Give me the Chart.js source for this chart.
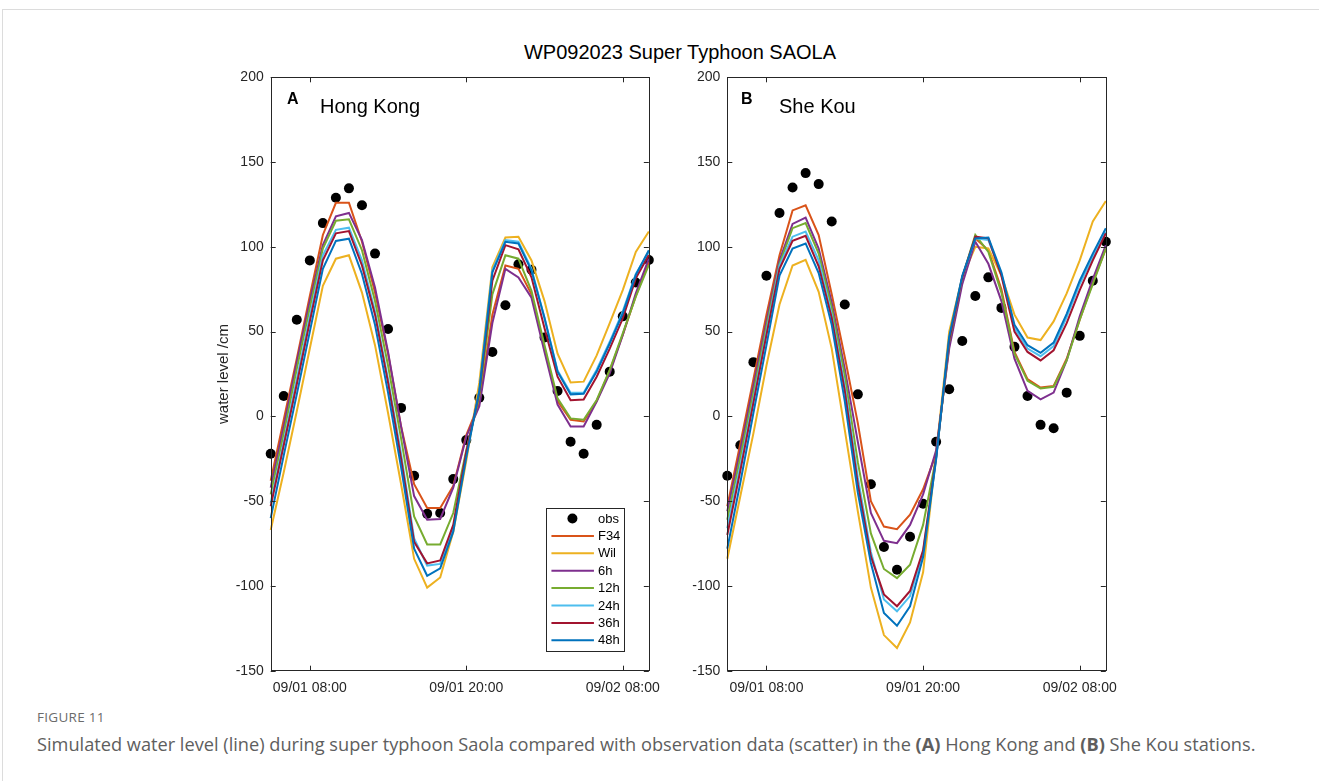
<!DOCTYPE html>
<html>
<head>
<meta charset="utf-8">
<script src="https://cdn.jsdelivr.net/npm/chart.js@4.4.1/dist/chart.umd.min.js"></script>
<style>
  html, body { margin: 0; padding: 0; background: #fff; }
  body { width: 1319px; height: 781px; position: relative; overflow: hidden; font-family: "Liberation Sans", Arial, sans-serif; }
  .frame { position: absolute; left: 2px; top: 9px; right: 0; bottom: 0; border-top: 1px solid #dcdcdc; border-left: 1px solid #dcdcdc; }
  .panel { position: absolute; top: 60px; width: 470px; height: 650px; }
  #hk { left: 200px; }
  #sk { left: 657px; }
  .title { position: absolute; left: 0; width: 1360px; top: 42px; text-align: center; font-size: 20px; line-height: 20px; color: #000; }
  .tag { position: absolute; font-size: 16px; line-height: 16px; font-weight: bold; color: #000; }
  .station { position: absolute; font-size: 20px; line-height: 20px; color: #000; }
  .fig { position: absolute; left: 37px; top: 710px; font-family: "Open Sans", sans-serif; font-size: 13.5px; line-height: 14px; color: #6b6b6b; letter-spacing: 0.3px; }
  .caption { position: absolute; left: 37px; top: 734px; font-family: "Open Sans", sans-serif; font-size: 18.2px; line-height: 20px; color: #5e5e5e; white-space: nowrap; }
</style>
</head>
<body>
<div class="frame"></div>
<div class="title">WP092023 Super Typhoon SAOLA</div>
<canvas id="hk" class="panel" width="470" height="650"></canvas>
<canvas id="sk" class="panel" width="470" height="650"></canvas>
<div class="tag" style="left:287px; top:91px;">A</div>
<div class="station" style="left:320px; top:96px;">Hong Kong</div>
<div class="tag" style="left:741px; top:91px;">B</div>
<div class="station" style="left:779px; top:96px;">She Kou</div>
<div class="fig">FIGURE 11</div>
<div class="caption">Simulated water level (line) during super typhoon Saola compared with observation data (scatter) in the <b>(A)</b> Hong Kong and <b>(B)</b> She Kou stations.</div>

<script>
// hourly output, 09/01 05:00 to 09/02 10:00
const times = [
  '09/01 05:00', '09/01 06:00', '09/01 07:00', '09/01 08:00', '09/01 09:00', '09/01 10:00',
  '09/01 11:00', '09/01 12:00', '09/01 13:00', '09/01 14:00', '09/01 15:00', '09/01 16:00',
  '09/01 17:00', '09/01 18:00', '09/01 19:00', '09/01 20:00', '09/01 21:00', '09/01 22:00',
  '09/01 23:00', '09/02 00:00', '09/02 01:00', '09/02 02:00', '09/02 03:00', '09/02 04:00',
  '09/02 05:00', '09/02 06:00', '09/02 07:00', '09/02 08:00', '09/02 09:00', '09/02 10:00'
];
const xTickLabels = ['09/01 08:00', '09/01 20:00', '09/02 08:00'];
const yMin = -150, yMax = 200, yStep = 50;

const runNames = ['F34', 'Wil', '6h', '12h', '24h', '36h', '48h'];
const runColors = ['#D95319', '#EDB120', '#7E2F8E', '#77AC30', '#4DBEEE', '#A2142F', '#0072BD'];

// Hong Kong (cm)
const hkObs = [-22, 12, 57, 92, 114, 129, 134.5, 124.5, 96, 51.5, 5, -35, -57.5, -57, -37, -14, 11, 38, 65.5, 89.7, 86.5, 46.5, 15, -15, -22, -5, 26.4, 59, 79, 92.2];
const hkF34 = [-38, -2, 34, 71, 107, 126, 126, 103, 73, 37, -6, -40, -54, -54, -41, -11, 8, 60, 89, 87, 72, 40, 9, -2, -3, 9, 27, 48, 71, 91];
const hkWil = [-67, -33, 3, 40, 77, 93, 95, 73, 42, 2, -40, -84, -101, -95, -68, -26, 20, 88, 105.5, 106, 92, 68, 37, 20, 20.5, 36, 55, 74.5, 97, 109];
const hk6h  = [-42, -6, 32, 68, 101, 118, 120, 104, 76, 38, -6, -47, -61, -60.5, -42, -12, 6, 55, 87, 82, 70, 38, 7, -6, -6, 8.7, 25.4, 48, 72.6, 93];
const hk12h = [-46, -10, 28, 64, 99, 115.4, 116.2, 98, 68, 30, -13, -59, -75.5, -75.5, -57, -20, 12, 72, 95, 93, 74, 42, 10.6, -1.2, -2, 9.7, 27.4, 49, 70.6, 89.3];
const hk24h = [-51, -15, 22, 59, 95, 110, 111.3, 92, 62, 22, -22, -72, -88, -87, -66, -22, 15, 86, 104, 103, 87, 58, 27, 14, 14, 27.5, 44, 62, 84, 97];
const hk36h = [-53, -17, 19, 56, 92, 108, 109.3, 89, 60, 20, -25, -74, -86.7, -85, -64, -21, 14, 80, 101, 98.5, 82, 52, 23.4, 9.5, 10, 23.4, 40, 57.8, 81.4, 95.2];
const hk48h = [-60, -23, 13, 50, 87, 103.5, 104.8, 84, 54, 14, -30, -78, -94, -89.6, -68, -24, 15, 85, 103, 102, 86, 58, 26.4, 13, 13.4, 26.4, 43, 60.8, 83.4, 98];

// She Kou (cm)
const skObs = [-35, -17, 32, 83, 120, 135, 143.5, 137, 115, 66, 13, -40, -77, -90.5, -71, -51.5, -15, 16, 44.5, 71, 82, 64, 41, 12, -5, -7, 14, 47.5, 80, 103];
const skF34 = [-53, -16, 22, 60, 95, 121.5, 124.5, 107, 72, 35, -4, -50, -65, -66.5, -58, -43, -22, 42, 80, 105, 98, 75, 38, 22, 17, 18, 34, 57, 79, 99];
const skWil = [-84, -47, -10, 30, 66, 89, 92.3, 73.5, 40, -8, -56, -101, -129, -136.6, -121.5, -92, -22, 50, 82, 100, 99, 83, 60, 46.5, 45, 56, 72.5, 92, 115, 127];
const sk6h  = [-56, -20, 18, 56, 92, 113.5, 117.3, 99, 67, 28, -15, -57, -73.4, -74.8, -64, -46, -20, 40, 78, 103, 90, 68, 34, 15, 10, 14, 33, 59, 81, 101];
const sk12h = [-61, -24, 14, 53, 90, 111, 114, 96, 64, 24, -27, -69, -90, -95.4, -87.5, -64, -24, 44, 82, 107, 97, 73, 37, 21, 16.5, 17.5, 33, 57, 78, 99];
const sk24h = [-66, -29, 10, 50, 89, 106, 109, 92, 60, 18, -36, -80, -108, -115, -106, -80, -25, 46, 82, 105, 104, 84, 52, 40, 35.5, 41.5, 58.5, 78, 94, 109];
const sk36h = [-70, -32, 8, 48, 87, 103.5, 106.5, 88.5, 58, 15, -40, -82.6, -105, -112, -103, -79, -24, 45, 82, 106, 105, 83, 50, 38, 33, 39, 55, 74.5, 92, 108];
const sk48h = [-78, -39, 2, 42, 83, 99, 102, 84.5, 54, 9, -45, -86.5, -116, -123.5, -112, -83, -25, 47, 83, 105, 105.5, 85, 54, 42, 37.5, 43.5, 60.5, 80, 96, 111];

const axisColor = '#262626';
const tickFont = { family: '"Liberation Sans", Arial, sans-serif', size: 14 };

// box around the axes with inward tick marks on all four sides
const axesBox = {
  id: 'axesBox',
  afterDatasetsDraw(chart) {
    const { ctx, chartArea: a, scales: { x, y } } = chart;
    const len = 5;
    ctx.save();
    ctx.strokeStyle = axisColor;
    ctx.lineWidth = 1;
    ctx.strokeRect(Math.round(a.left) + 0.5, Math.round(a.top) + 0.5, Math.round(a.right - a.left), Math.round(a.bottom - a.top));
    ctx.beginPath();
    y.ticks.forEach(t => {
      const py = Math.round(y.getPixelForValue(t.value)) + 0.5;
      ctx.moveTo(a.left, py); ctx.lineTo(a.left + len, py);
      ctx.moveTo(a.right, py); ctx.lineTo(a.right - len, py);
    });
    xTickLabels.forEach(lbl => {
      const px = Math.round(x.getPixelForValue(times.indexOf(lbl))) + 0.5;
      ctx.moveTo(px, a.bottom); ctx.lineTo(px, a.bottom - len);
      ctx.moveTo(px, a.top); ctx.lineTo(px, a.top + len);
    });
    ctx.stroke();
    ctx.restore();
  }
};

// boxed legend in the lower right corner of the axes
const boxLegend = {
  id: 'boxLegend',
  afterDraw(chart, args, opts) {
    if (!opts.show) return;
    const { ctx, chartArea: a } = chart;
    const w = 78, h = 142.5;
    const left = a.right - 24.4 - w, top = a.bottom - 20.2 - h;
    ctx.save();
    ctx.fillStyle = '#fff';
    ctx.fillRect(left, top, w, h);
    ctx.strokeStyle = axisColor;
    ctx.lineWidth = 1;
    ctx.strokeRect(Math.round(left) + 0.5, Math.round(top) + 0.5, Math.round(w), Math.round(h));
    ctx.font = '13px "Liberation Sans", Arial, sans-serif';
    ctx.textBaseline = 'middle';
    chart.data.datasets.forEach((ds, i) => {
      const cy = top + 10.5 + i * 17.4;
      if (ds.showLine === false) {
        ctx.fillStyle = ds.pointBackgroundColor;
        ctx.beginPath();
        ctx.arc(left + 26, cy, 5, 0, Math.PI * 2);
        ctx.fill();
      } else {
        ctx.strokeStyle = ds.borderColor;
        ctx.lineWidth = 2;
        ctx.beginPath();
        ctx.moveTo(left + 5, cy);
        ctx.lineTo(left + 47.5, cy);
        ctx.stroke();
      }
      ctx.fillStyle = '#000';
      ctx.fillText(ds.label, left + 51.5, cy + 0.5);
    });
    ctx.restore();
  }
};

function makePanel(id, obs, runs, withTitle, withLegend, pad) {
  const datasets = [{
    label: 'obs',
    data: obs,
    showLine: false,
    pointRadius: 5,
    pointHoverRadius: 5,
    pointBackgroundColor: '#000',
    pointBorderColor: '#000',
    pointBorderWidth: 0,
    clip: false,
    order: 20
  }];
  runs.forEach((vals, i) => {
    datasets.push({
      label: runNames[i],
      data: vals,
      borderColor: runColors[i],
      backgroundColor: runColors[i],
      borderWidth: 2,
      pointRadius: 0,
      tension: 0,
      fill: false,
      clip: false,
      order: 10 - i
    });
  });

  return new Chart(document.getElementById(id), {
    type: 'line',
    data: { labels: times, datasets: datasets },
    plugins: [axesBox, boxLegend],
    options: {
      responsive: false,
      animation: false,
      events: [],
      layout: { padding: pad },
      plugins: {
        legend: { display: false },
        tooltip: { enabled: false },
        boxLegend: { show: withLegend }
      },
      scales: {
        x: {
          type: 'category',
          offset: false,
          grid: { display: false, drawTicks: false },
          border: { display: false },
          afterFit: s => { s.height = 30; },
          ticks: {
            autoSkip: false,
            maxRotation: 0,
            padding: 9,
            color: axisColor,
            font: tickFont,
            callback: (v, i) => xTickLabels.includes(times[i]) ? times[i] : null
          }
        },
        y: {
          min: yMin,
          max: yMax,
          grid: { display: false, drawTicks: false },
          border: { display: false },
          afterFit: s => { s.width = pad.yWidth; },
          ticks: { stepSize: yStep, padding: 7, color: axisColor, font: tickFont },
          title: {
            display: withTitle,
            text: 'water level /cm',
            color: axisColor,
            font: { family: tickFont.family, size: 15 },
            padding: { top: 15, bottom: 0 }
          }
        }
      }
    }
  });
}

makePanel('hk', hkObs, [hkF34, hkWil, hk6h, hk12h, hk24h, hk36h, hk48h], true, true,
  { left: 0, top: 17.3, right: 18.3, bottom: 9.3, yWidth: 70.7 });
makePanel('sk', skObs, [skF34, skWil, sk6h, sk12h, sk24h, sk36h, sk48h], false, false,
  { left: 0, top: 17.3, right: 18.7, bottom: 9.3, yWidth: 70.3 });
</script>
</body>
</html>
